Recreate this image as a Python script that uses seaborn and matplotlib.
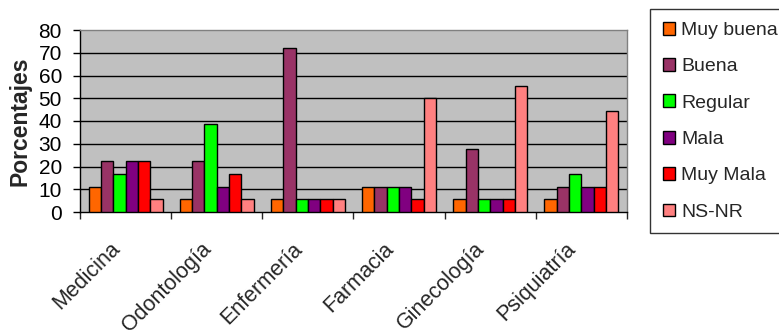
import matplotlib
matplotlib.use("Agg")
import matplotlib.pyplot as plt
import matplotlib.patches as mpatches
import matplotlib.transforms as mtransforms
from matplotlib.ticker import FixedLocator
import numpy as np
import pandas as pd
import seaborn as sns

categories = ["Medicina", "Odontología", "Enfermería", "Farmacia", "Ginecología", "Psiquiatría"]
series = ["Muy buena", "Buena", "Regular", "Mala", "Muy Mala", "NS-NR"]
muy_buena = [11.1, 5.6, 5.6, 11.1, 5.6, 5.6]
buena = [22.2, 22.2, 72.2, 11.1, 27.8, 11.1]
regular = [16.7, 38.9, 5.6, 11.1, 5.6, 16.7]
mala = [22.2, 11.1, 5.6, 11.1, 5.6, 11.1]
muy_mala = [22.2, 16.7, 5.6, 5.6, 5.6, 11.1]
ns_nr = [5.6, 5.6, 5.6, 50.0, 55.6, 44.4]
colors = ["#FF6600", "#993366", "#00FF00", "#800080", "#FF0000", "#FF8080"]
y_ticks = [0, 10, 20, 30, 40, 50, 60, 70, 80]
y_label = "Porcentajes"

values = [muy_buena, buena, regular, mala, muy_mala, ns_nr]
df = pd.DataFrame(
    [(c, s, v) for s, vals in zip(series, values) for c, v in zip(categories, vals)],
    columns=["Servicio", "Opinión", "Porcentaje"],
)

sns.set_theme(style="white")
plt.rcParams["font.family"] = ["Liberation Sans", "DejaVu Sans"]

W, H = 779, 330
fig = plt.figure(figsize=(W / 100, H / 100), dpi=100)
ax = fig.add_axes([80 / W, (H - 212) / H, (627 - 80) / W, (212 - 30) / H])
ax.set_facecolor("#C0C0C0")

sns.barplot(
    data=df, x="Servicio", y="Porcentaje", hue="Opinión",
    order=categories, hue_order=series, palette=colors,
    width=0.81, edgecolor="black", linewidth=1.0, saturation=1,
    legend=False, ax=ax, zorder=3,
)

ax.set_ylim(0, 80)
ax.set_xlim(-0.5, len(categories) - 0.5)
ax.yaxis.set_major_locator(FixedLocator(y_ticks))
for yv in y_ticks[1:-1]:
    ax.axhline(yv, color="black", linewidth=1.0, zorder=1)

ax.spines["top"].set_color("#808080")
ax.spines["right"].set_color("#808080")
ax.spines["left"].set_color("black")
ax.spines["bottom"].set_color("black")
for s in ax.spines.values():
    s.set_linewidth(1.0)

ax.tick_params(axis="y", which="major", direction="out", length=5, width=1,
               labelsize=15, pad=8, left=True, colors="black")
ax.set_xticks(np.arange(len(categories)))
ax.set_xticklabels(categories, rotation=45, ha="right", va="top",
                   rotation_mode="anchor", fontsize=15.5)
ax.tick_params(axis="x", which="major", length=0, pad=19)
shift = mtransforms.ScaledTranslation(-16 / 100, 0, fig.dpi_scale_trans)
for lbl in ax.get_xticklabels():
    lbl.set_transform(lbl.get_transform() + shift)
ax.xaxis.set_minor_locator(FixedLocator(np.arange(len(categories) + 1) - 0.5))
ax.tick_params(axis="x", which="minor", direction="out", length=5, width=1, bottom=True)

ax.set_xlabel("")
ax.set_ylabel(y_label, fontsize=16.5, fontweight="bold", labelpad=5)

handles = [mpatches.Patch(facecolor=c, edgecolor="black", linewidth=1.0) for c in colors]
leg = fig.legend(
    handles, series, loc="upper left", bbox_to_anchor=(650 / W, 1 - 9 / H),
    frameon=True, fancybox=False, shadow=False, fontsize=14,
    handlelength=0.65, handleheight=0.65, handletextpad=0.3,
    labelspacing=0.98, borderpad=0.65, borderaxespad=0,
)
leg.get_frame().set_edgecolor("black")
leg.get_frame().set_linewidth(1.0)
leg.get_frame().set_facecolor("white")

fig.savefig("out.png", dpi=100)
